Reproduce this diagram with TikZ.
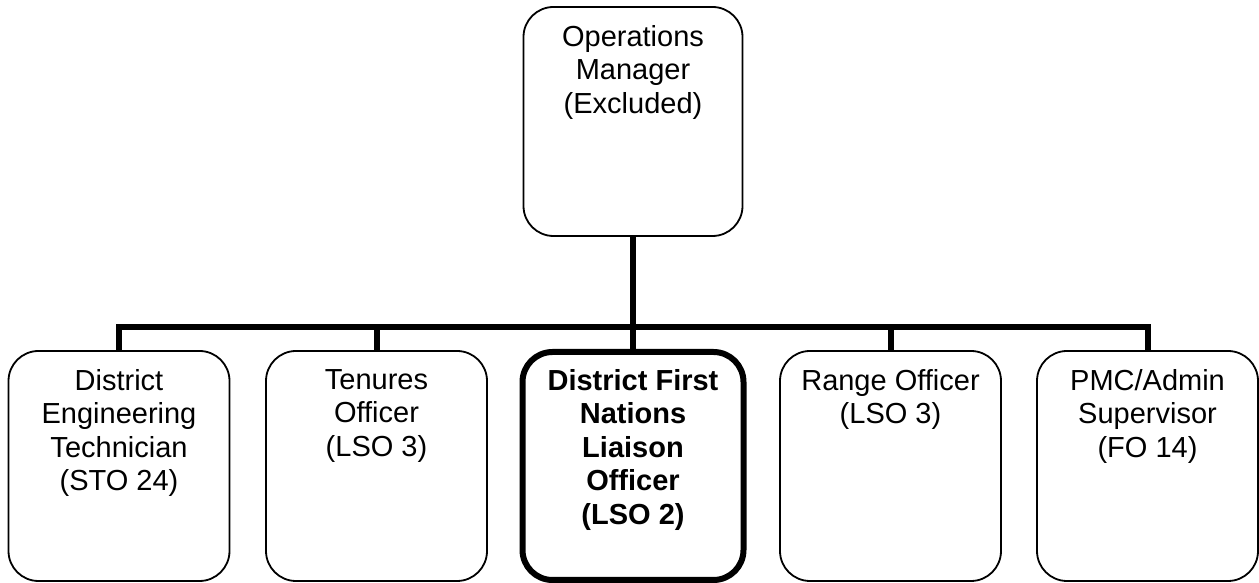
\documentclass[tikz,border=0pt]{standalone}
\usepackage{fontspec}
\setmainfont{Liberation Sans}
\begin{document}
\begin{tikzpicture}[x=1pt,y=1pt,
  box/.style={draw=black, line width=1.8pt, rounded corners=30pt, minimum width=221pt, minimum height=230pt, inner sep=0pt, fill=white},
  boldbox/.style={box, line width=6pt, minimum height=228pt},
  topbox/.style={box, minimum width=219pt, minimum height=229pt},
  lbl/.style={anchor=north, inner sep=0pt, align=center, font=\fontsize{29pt}{33.5pt}\selectfont},
  conn/.style={draw=black, line width=6pt, line join=miter}]
\useasboundingbox (0,0) rectangle (1259,583);
% boxes
\node[topbox] (top) at (633,461.5) {};
\node[box] (b1) at (119,117) {};
\node[box] (b2) at (376.5,117) {};
\node[boldbox] (b3) at (633,117) {};
\node[box] (b4) at (890.5,117) {};
\node[box] (b5) at (1147.5,117) {};
\coordinate (bar) at (633,256);
% connectors
\draw[conn] (b1.north) |- (bar) -| (b5.north);
\draw[conn] (b2.north) -- (b2.north |- bar);
\draw[conn] (b4.north) -- (b4.north |- bar);
\draw[conn] (top.south) -- (b3.north);
% labels
\node[lbl] (ttop) at ([yshift=-19pt]top.north) {Operations\\Manager\\(Excluded)};
\node[lbl] (t1) at ([yshift=-19pt]b1.north) {District\\Engineering\\Technician\\(STO 24)};
\node[lbl] (t2) at ([yshift=-19pt]b2.north) {Tenures\\Officer\\(LSO 3)};
\node[lbl, font=\fontsize{29pt}{33.5pt}\selectfont\bfseries] (t3) at ([yshift=-20pt]b3.north) {District First\\Nations\\Liaison\\Officer\\(LSO 2)};
\node[lbl] (t4) at ([yshift=-19pt]b4.north) {Range Officer\\(LSO 3)};
\node[lbl] (t5) at ([yshift=-19pt]b5.north) {PMC/Admin\\Supervisor\\(FO 14)};
\end{tikzpicture}
\end{document}
